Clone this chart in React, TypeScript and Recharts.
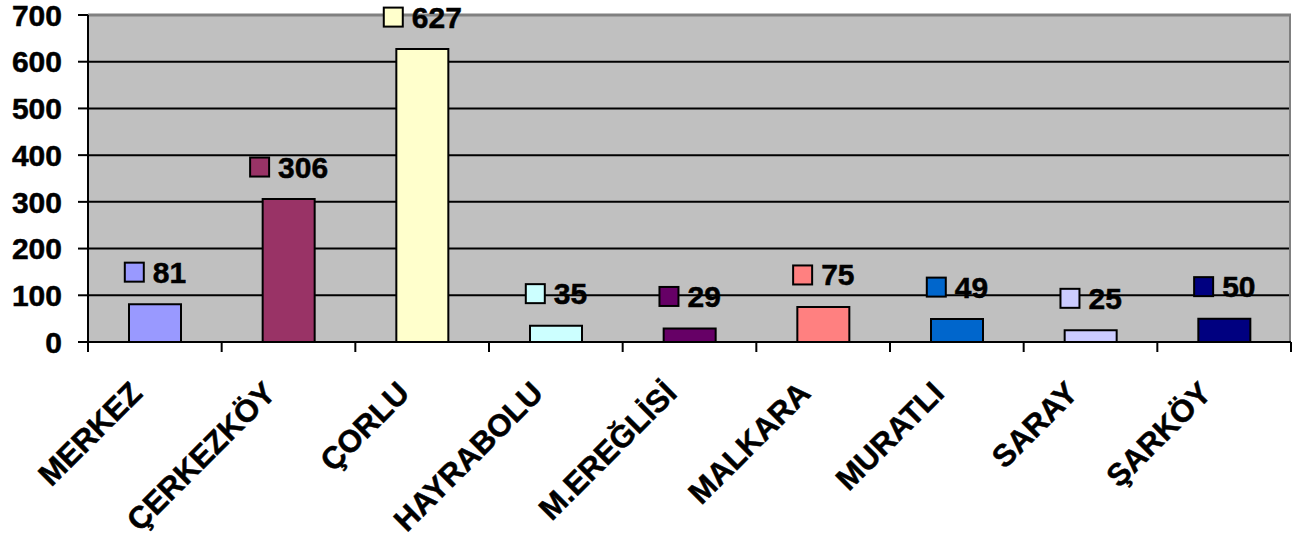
import {
  BarChart, Bar, XAxis, YAxis, CartesianGrid, Cell, ReferenceLine,
} from 'recharts';

const DISTRICTS = ['MERKEZ', 'ÇERKEZKÖY', 'ÇORLU', 'HAYRABOLU', 'M.EREĞLİSİ', 'MALKARA', 'MURATLI', 'SARAY', 'ŞARKÖY'];
const COUNTS = [81, 306, 627, 35, 29, 75, 49, 25, 50];
const BAR_COLORS = ['#9999FF', '#993366', '#FFFFCC', '#CCFFFF', '#660066', '#FF8080', '#0066CC', '#CCCCFF', '#000080'];
const Y_TICKS = [0, 100, 200, 300, 400, 500, 600, 700];

const WIDTH = 1311;
const HEIGHT = 546;
const MARGIN = { top: 15, right: 20, bottom: 0, left: 0 };
const Y_AXIS_W = 88;
const X_AXIS_H = 204;
const PLOT_RIGHT = WIDTH - MARGIN.right;
const BAND = (PLOT_RIGHT - Y_AXIS_W) / DISTRICTS.length;
const FONT = '"Liberation Sans", Arial, sans-serif';

const data = DISTRICTS.map((name, i) => ({ name, count: COUNTS[i] }));

// category label rotated -45deg plus the boundary tick marks under the axis
function DistrictTick(props: any) {
  const { x, y, payload } = props;
  const idx = props.index ?? DISTRICTS.indexOf(payload.value);
  const tx = x - 11;
  const ty = y + 53;
  return (
    <g>
      <line x1={x - BAND / 2} x2={x - BAND / 2} y1={y} y2={y + 10} stroke="#000" strokeWidth={2} />
      {idx === DISTRICTS.length - 1 && (
        <line x1={x + BAND / 2} x2={x + BAND / 2} y1={y} y2={y + 10} stroke="#000" strokeWidth={2} />
      )}
      <text
        x={tx}
        y={ty}
        textAnchor="end"
        transform={`rotate(-45, ${tx}, ${ty})`}
        fontFamily={FONT}
        fontWeight="bold"
        fontSize={31}
        fill="#000"
        stroke="#000"
        strokeWidth={0.5}
      >
        {payload.value}
      </text>
    </g>
  );
}

// colour key square + value, centred above each bar
function ValueTag(props: any) {
  const vb = props.viewBox ?? props;
  const x = vb.x ?? props.x;
  const y = vb.y ?? props.y;
  const width = vb.width ?? props.width;
  const value = props.value;
  const idx = props.index ?? COUNTS.indexOf(value);
  const label = String(value);
  const cx = x + width / 2;
  const cy = y - 32;
  const textW = label.length * 16.7;
  const left = cx - (21 + 8 + textW) / 2;
  return (
    <g>
      <rect x={left + 1} y={cy - 9.5} width={19} height={19} fill={BAR_COLORS[idx]} stroke="#000" strokeWidth={2} />
      <text
        x={left + 29}
        y={cy + 10.5}
        fontFamily={FONT}
        fontWeight="bold"
        fontSize={30}
        fill="#000"
        stroke="#000"
        strokeWidth={0.5}
      >
        {label}
      </text>
    </g>
  );
}

export default function App() {
  return (
    <div style={{ width: WIDTH, height: HEIGHT, background: '#fff' }}>
      <style>{'body{margin:0}'}</style>
      <BarChart width={WIDTH} height={HEIGHT} data={data} margin={MARGIN}>
        <CartesianGrid vertical={false} fill="#C0C0C0" stroke="#000" strokeWidth={2} />
        <CartesianGrid horizontal={false} verticalPoints={[PLOT_RIGHT - 1]} stroke="#808080" strokeWidth={2} />
        <ReferenceLine y={700} stroke="#808080" strokeWidth={3} />
        <XAxis
          dataKey="name"
          height={X_AXIS_H}
          interval={0}
          tickSize={0}
          tickMargin={0}
          tickLine={false}
          axisLine={{ stroke: '#000', strokeWidth: 2 }}
          tick={<DistrictTick />}
        />
        <YAxis
          width={Y_AXIS_W}
          domain={[0, 700]}
          ticks={Y_TICKS}
          interval={0}
          tickSize={10}
          tickMargin={16}
          tickLine={{ stroke: '#000', strokeWidth: 2 }}
          axisLine={{ stroke: '#000', strokeWidth: 2 }}
          tick={{ fill: '#000', stroke: '#000', strokeWidth: 0.5, fontSize: 30, fontWeight: 'bold', fontFamily: FONT }}
        />
        <Bar
          dataKey="count"
          barSize={52}
          stroke="#000"
          strokeWidth={2}
          isAnimationActive={false}
          label={<ValueTag />}
        >
          {data.map((d, i) => (
            <Cell key={d.name} fill={BAR_COLORS[i]} />
          ))}
        </Bar>
      </BarChart>
    </div>
  );
}
